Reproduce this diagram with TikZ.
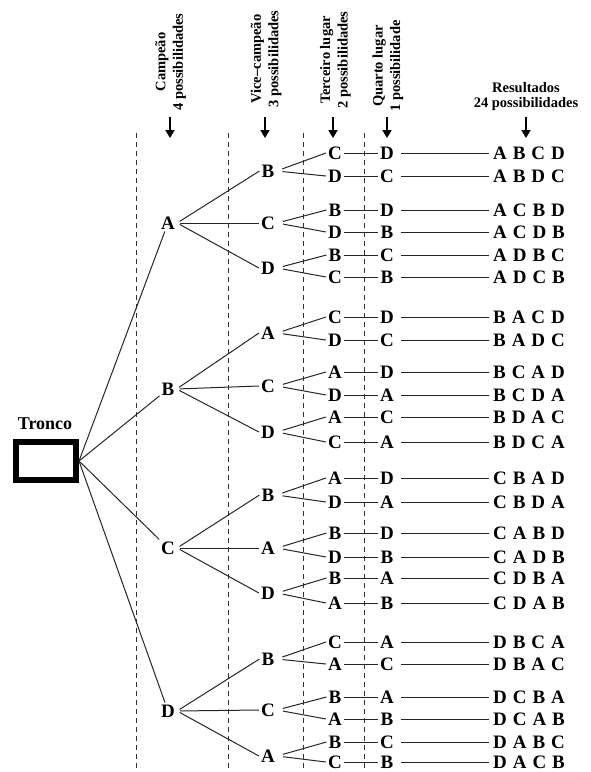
\documentclass[tikz,border=0pt]{standalone}
\usepackage{fontspec}
\setmainfont{Liberation Serif}
\newfontfamily\resfont{Liberation Serif}[WordSpace=1.25]
\usetikzlibrary{arrows.meta}
\begin{document}
\begin{tikzpicture}[x=1pt,y=-1pt,
  lt/.style={font=\fontsize{19}{20}\selectfont\bfseries, inner sep=2pt},
  res/.style={font=\resfont\fontsize{19}{20}\selectfont\bfseries, inner sep=4pt, anchor=west},
  hdr/.style={font=\fontsize{14.5}{17.5}\selectfont\bfseries, align=center, inner sep=0pt},
  conn/.style={line width=1pt, black!85},
  dashline/.style={line width=0.9pt, black!80, dash pattern=on 5pt off 4pt},
  arr/.style={line width=1.8pt, -{Triangle[length=8pt,width=9pt]}},
  trunk/.style={draw, line width=6pt, minimum width=60pt, minimum height=38pt, inner sep=0pt}]
\useasboundingbox (0,0) rectangle (591,772);

% dashed column separators
\draw[dashline] (136,133) -- (136,772);
\draw[dashline] (228,133) -- (228,772);
\draw[dashline] (303,133) -- (303,772);
\draw[dashline] (364,133) -- (364,772);

% headers
\node[hdr, rotate=90] (h1) at (170.5,62) {Campeão\\4 possibilidades};
\node[hdr, rotate=90] (h2) at (266,59) {Vice–campeão\\3 possibilidades};
\node[hdr, rotate=90] (h3) at (335.5,60) {Terceiro lugar\\2 possibilidades};
\node[hdr, rotate=90] (h4) at (388,66) {Quarto lugar\\1 possibilidade};
\node[hdr, font=\fontsize{14.5}{15}\selectfont\bfseries] (h5) at (526,97) {Resultados\\24 possibilidades};

% header arrows
\foreach \k/\x in {1/170,2/265,3/333,4/387,5/526}{
  \coordinate (as\k) at (\x,117);
  \coordinate (ae\k) at (\x,138);
  \draw[arr] (as\k) -- (ae\k);
}

% trunk
\node[font=\fontsize{18}{20}\selectfont\bfseries] (trl) at (45,424) {Tronco};
\node[trunk] (tr) at (46,461) {};

% level 1
\node[lt] (pA) at (168,223) {A};
\node[lt] (pB) at (168,389) {B};
\node[lt] (pC) at (168,548) {C};
\node[lt] (pD) at (168,711) {D};
\foreach \n in {pA,pB,pC,pD}{\draw[conn] (tr.east) -- (\n);}

% level 2
\node[lt] (sA1) at (268,171) {B};
\node[lt] (sA2) at (268,223) {C};
\node[lt] (sA3) at (268,268) {D};
\node[lt] (sB1) at (268,333) {A};
\node[lt] (sB2) at (268,386) {C};
\node[lt] (sB3) at (268,432) {D};
\node[lt] (sC1) at (268,495) {B};
\node[lt] (sC2) at (268,548) {A};
\node[lt] (sC3) at (268,593) {D};
\node[lt] (sD1) at (268,659) {B};
\node[lt] (sD2) at (268,710) {C};
\node[lt] (sD3) at (268,756) {A};
\foreach \g in {A,B,C,D}{
  \foreach \j in {1,2,3}{
    \draw[conn, shorten <=3pt] (p\g.east) -- (s\g\j.west);
  }
}

% levels 3, 4 and results
\foreach \i/\y/\p/\c/\d/\r in {
  1/153/sA1/C/D/{A B C D},
  2/176/sA1/D/C/{A B D C},
  3/210/sA2/B/D/{A C B D},
  4/232/sA2/D/B/{A C D B},
  5/255/sA3/B/C/{A D B C},
  6/277/sA3/C/B/{A D C B},
  7/317/sB1/C/D/{B A C D},
  8/340/sB1/D/C/{B A D C},
  9/372/sB2/A/D/{B C A D},
  10/395/sB2/D/A/{B C D A},
  11/417/sB3/A/C/{B D A C},
  12/442/sB3/C/A/{B D C A},
  13/478/sC1/A/D/{C B A D},
  14/502/sC1/D/A/{C B D A},
  15/533/sC2/B/D/{C A B D},
  16/557/sC2/D/B/{C A D B},
  17/578/sC3/B/A/{C D B A},
  18/603/sC3/A/B/{C D A B},
  19/642/sD1/C/A/{D B C A},
  20/664/sD1/A/C/{D B A C},
  21/697/sD2/B/A/{D C B A},
  22/719/sD2/A/B/{D C A B},
  23/742/sD3/B/C/{D A B C},
  24/762/sD3/C/B/{D A C B}}{
  \node[lt] (t\i) at (335,\y) {\c};
  \node[lt] (q\i) at (387,\y) {\d};
  \node[res] (r\i) at (489,\y) {\r};
  \draw[conn, shorten <=6pt] (\p.east) -- (t\i.west);
  \draw[conn] (t\i.east) -- (q\i.west);
  \draw[conn, shorten <=5pt] (q\i.east) -- (r\i.west);
}
\end{tikzpicture}
\end{document}
